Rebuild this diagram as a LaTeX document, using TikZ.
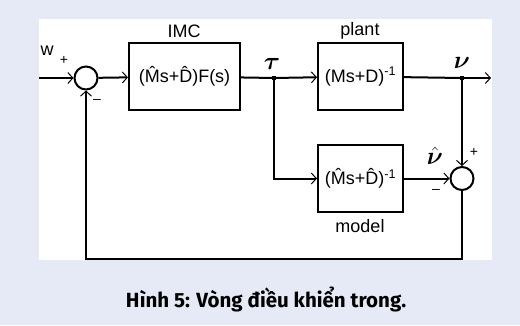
\documentclass[tikz,border=0pt]{standalone}
\usepackage{amsmath}
\usepackage{fontspec}
\setmainfont{Liberation Sans}
\newfontfamily\capfont{Fira Sans}
\usetikzlibrary{positioning,arrows.meta}
\definecolor{bgblue}{RGB}{230,234,246}

\begin{document}
\begin{tikzpicture}[x=1pt,y=-1pt,font=\fontsize{18}{21}\selectfont,
    blk/.style={draw,line width=2pt,minimum width=85pt,minimum height=67pt,inner sep=0pt},
    sumc/.style={draw,circle,line width=2pt,minimum size=23pt,inner sep=0pt},
    dot/.style={fill,rectangle,minimum size=4pt,inner sep=0pt},
    sgn/.style={font=\fontsize{14}{16}\selectfont,inner sep=0pt},
    grk/.style={font=\fontsize{23}{26}\selectfont,inner sep=0pt},
    arr/.style={-{Straight Barb[length=5pt,width=11pt,line width=1pt]},line width=2pt},
    wire/.style={line width=2pt}]
  % background and white panel
  \fill[bgblue] (0,0) rectangle (520,325);
  \fill[white] (39,19) rectangle (492,260);
  % blocks
  \node[blk,minimum width=111pt] (imc) at (184.5,76.5) {(\^{M}s+\^{D})F(s)};
  \node[blk] (plant) at (360.5,76.5) {(Ms+D)\textsuperscript{-1}};
  \node[blk] (model) at (360.5,178.5) {(\^{M}s+\^{D})\textsuperscript{-1}};
  \node[sumc] (s1) at (86,78) {};
  \node[sumc] (s2) at (462,178.5) {};
  % junctions and free ends
  \node[dot] (tj) at (274,78) {};
  \node[dot] (nj) at (462,78) {};
  \coordinate (win) at (39,78);
  \coordinate (out) at (491,78);
  \coordinate (br) at (462,259);
  \coordinate (bl) at (86,259);
  % labels
  \node (imcl) at (184,31) {IMC};
  \node (plantl) at (360,31) {plant};
  \node (modell) at (360,226) {model};
  \node (wl) at (47,51) {w};
  \node[sgn] (p1) at (64,60) {+};
  \node[sgn] (m1) at (97,101) {--};
  \node[grk] (taul) at (272,64) {$\boldsymbol{\tau}$};
  \node[grk] (nul) at (462,63) {$\boldsymbol{\nu}$};
  \node[grk] (nuhl) at (435,156) {$\hat{\boldsymbol{\nu}}$};
  \node[sgn] (p2) at (474,152) {+};
  \node[sgn] (m2) at (436,191) {--};
  % connectors
  \draw[arr] (win) -- (s1);
  \draw[arr] (s1) -- (imc);
  \draw[wire] (imc) -- (tj);
  \draw[arr] (tj) -- (plant);
  \draw[wire] (plant) -- (nj);
  \draw[arr] (nj) -- (out);
  \draw[arr] (tj) |- (model);
  \draw[arr] (model) -- (s2);
  \draw[arr] (nj) -- (s2);
  \draw[arr] (s2) -- (br) -- (bl) -- (s1);
  % caption
  \node[font=\capfont\bfseries\fontsize{20.5}{24}\selectfont] (cap) at (266,300) {Hình 5: Vòng điều khiển trong.};
\end{tikzpicture}
\end{document}
